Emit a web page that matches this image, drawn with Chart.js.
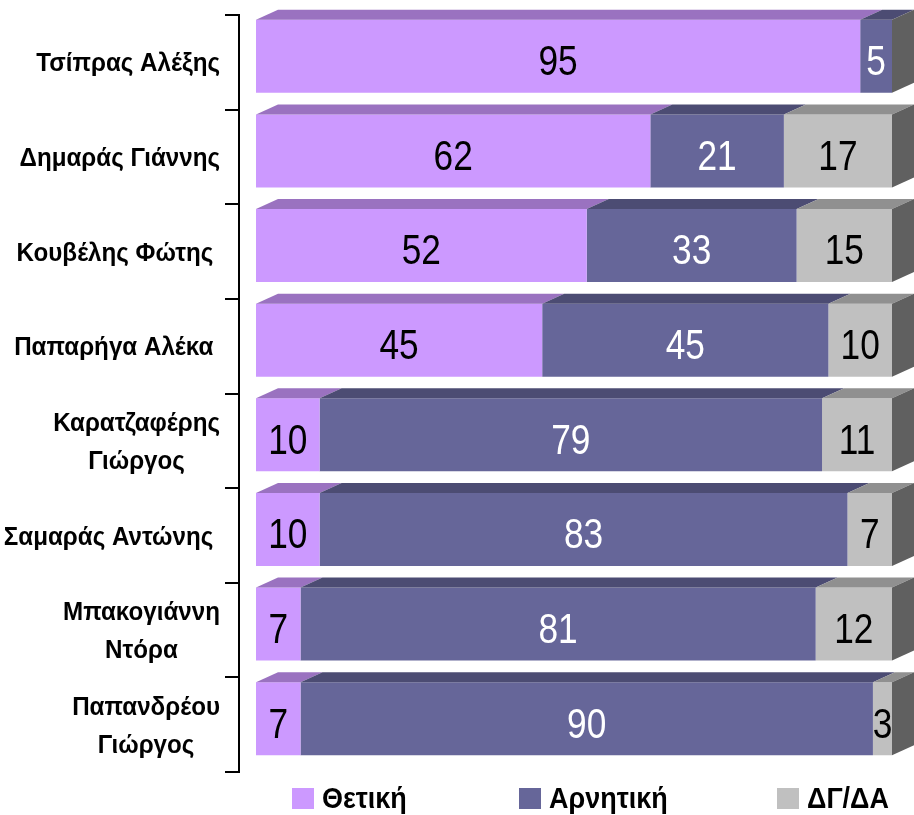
<!DOCTYPE html>
<html>
<head>
<meta charset="utf-8">
<script src="https://cdn.jsdelivr.net/npm/chart.js@4.4.1/dist/chart.umd.min.js"></script>
<style>
  html, body { margin: 0; padding: 0; background: #fff; }
  #wrap { width: 914px; height: 815px; }
</style>
</head>
<body>
<div id="wrap"><canvas id="myChart" width="914" height="815"></canvas></div>
<script>
const politicians = [
  ['Τσίπρας Αλέξης'],
  ['Δημαράς Γιάννης'],
  ['Κουβέλης Φώτης '],
  ['Παπαρήγα Αλέκα '],
  ['Καρατζαφέρης', 'Γιώργος'],
  ['Σαμαράς Αντώνης '],
  ['Μπακογιάννη', 'Ντόρα'],
  ['Παπανδρέου', 'Γιώργος']
]

const seriesNames = ['Θετική', 'Αρνητική', 'ΔΓ/ΔΑ']

const positive = [95, 62, 52, 45, 10, 10, 7, 7]
const negative = [5, 21, 33, 45, 79, 83, 81, 90]
const noAnswer = [0, 17, 15, 10, 11, 7, 12, 3]

// no narrow font installed, so squeeze Liberation Sans
const fontFamily = '"Liberation Sans", Arial, sans-serif'
const valueSqueeze = 0.82
const labelSqueeze = 0.93

const frontColors = ['#CC99FF', '#666699', '#C0C0C0']
const topColors = ['#9A72C0', '#4C4C73', '#909090']
const sideColor = '#606060'
const labelColors = ['#000000', '#ffffff', '#000000']

const depthX = 22
const depthY = 10

function narrowText(ctx, text, x, y, align, squeeze) {
  const w = ctx.measureText(text).width * squeeze
  let left = x
  if (align === 'center') left = x - w / 2
  if (align === 'right') left = x - w
  ctx.save()
  ctx.textAlign = 'left'
  ctx.translate(left, y)
  ctx.scale(squeeze, 1)
  ctx.fillText(text, 0, 0)
  ctx.restore()
  return w
}

// draws the 3d faces, the value labels, the category axis and the legend
const decorPlugin = {
  id: 'decor',
  afterDatasetsDraw(chart) {
    const ctx = chart.ctx
    const yScale = chart.scales.y
    const n = chart.data.labels.length

    for (let i = 0; i < n; i++) {
      let lastBar = null
      chart.data.datasets.forEach((ds, d) => {
        const bar = chart.getDatasetMeta(d).data[i]
        if (!ds.data[i]) return
        const left = bar.base, right = bar.x
        const top = bar.y - bar.height / 2
        ctx.fillStyle = topColors[d]
        ctx.beginPath()
        ctx.moveTo(left, top)
        ctx.lineTo(left + depthX, top - depthY)
        ctx.lineTo(right + depthX, top - depthY)
        ctx.lineTo(right, top)
        ctx.closePath()
        ctx.fill()
        lastBar = bar
      })
      if (lastBar) {
        const right = lastBar.x
        const top = lastBar.y - lastBar.height / 2
        const bottom = lastBar.y + lastBar.height / 2
        ctx.fillStyle = sideColor
        ctx.beginPath()
        ctx.moveTo(right, top)
        ctx.lineTo(right + depthX, top - depthY)
        ctx.lineTo(right + depthX, bottom - depthY)
        ctx.lineTo(right, bottom)
        ctx.closePath()
        ctx.fill()
      }
    }

    // value labels
    ctx.font = '43px ' + fontFamily
    ctx.textBaseline = 'middle'
    chart.data.datasets.forEach((ds, d) => {
      chart.getDatasetMeta(d).data.forEach((bar, i) => {
        if (!ds.data[i]) return
        ctx.fillStyle = labelColors[d]
        narrowText(ctx, String(ds.data[i]), (bar.base + bar.x) / 2, bar.y + 7, 'center', valueSqueeze)
      })
    })

    // category axis with bracket ticks
    const band = (yScale.bottom - yScale.top) / n
    const axisX = 239
    ctx.strokeStyle = '#000'
    ctx.lineWidth = 2
    ctx.beginPath()
    ctx.moveTo(axisX, yScale.top + 6)
    ctx.lineTo(axisX, yScale.bottom + 6)
    for (let i = 0; i <= n; i++) {
      const y = Math.round(yScale.top + 6 + i * band)
      ctx.moveTo(225, y)
      ctx.lineTo(axisX + 1, y)
    }
    ctx.stroke()

    // category labels, lines centred inside a right aligned block
    ctx.font = 'bold 26px ' + fontFamily
    ctx.fillStyle = '#000'
    ctx.textBaseline = 'middle'
    chart.data.labels.forEach((lines, i) => {
      const cy = yScale.getPixelForValue(i) + 8
      const blockW = Math.max(...lines.map(l => ctx.measureText(l).width)) * labelSqueeze
      const cx = 220 - blockW / 2
      const lineH = 38
      lines.forEach((l, k) => {
        narrowText(ctx, l, cx, cy + (k - (lines.length - 1) / 2) * lineH, 'center', labelSqueeze)
      })
    })

    // legend
    const legendX = [292, 519, 777]
    ctx.font = 'bold 29px ' + fontFamily
    chart.data.datasets.forEach((ds, d) => {
      ctx.fillStyle = frontColors[d]
      ctx.fillRect(legendX[d], 788, 22, 21)
      ctx.fillStyle = '#000'
      narrowText(ctx, ds.label, legendX[d] + 30, 800, 'left', labelSqueeze)
    })
  }
}

const data = {
  labels: politicians,
  datasets: [
    { label: seriesNames[0], data: positive, backgroundColor: frontColors[0] },
    { label: seriesNames[1], data: negative, backgroundColor: frontColors[1] },
    { label: seriesNames[2], data: noAnswer, backgroundColor: frontColors[2] }
  ]
}

const config = {
  type: 'bar',
  data: data,
  options: {
    indexAxis: 'y',
    responsive: false,
    animation: false,
    layout: {
      padding: { left: 256, right: 22, top: 9, bottom: 49 }
    },
    datasets: {
      bar: { categoryPercentage: 1, barPercentage: 0.772, borderWidth: 0 }
    },
    scales: {
      x: { stacked: true, min: 0, max: 100, display: false },
      y: { stacked: true, display: false }
    },
    plugins: {
      legend: { display: false },
      tooltip: { enabled: false }
    }
  },
  plugins: [decorPlugin]
}

const myChart = new Chart(document.getElementById('myChart'), config)
</script>
</body>
</html>
